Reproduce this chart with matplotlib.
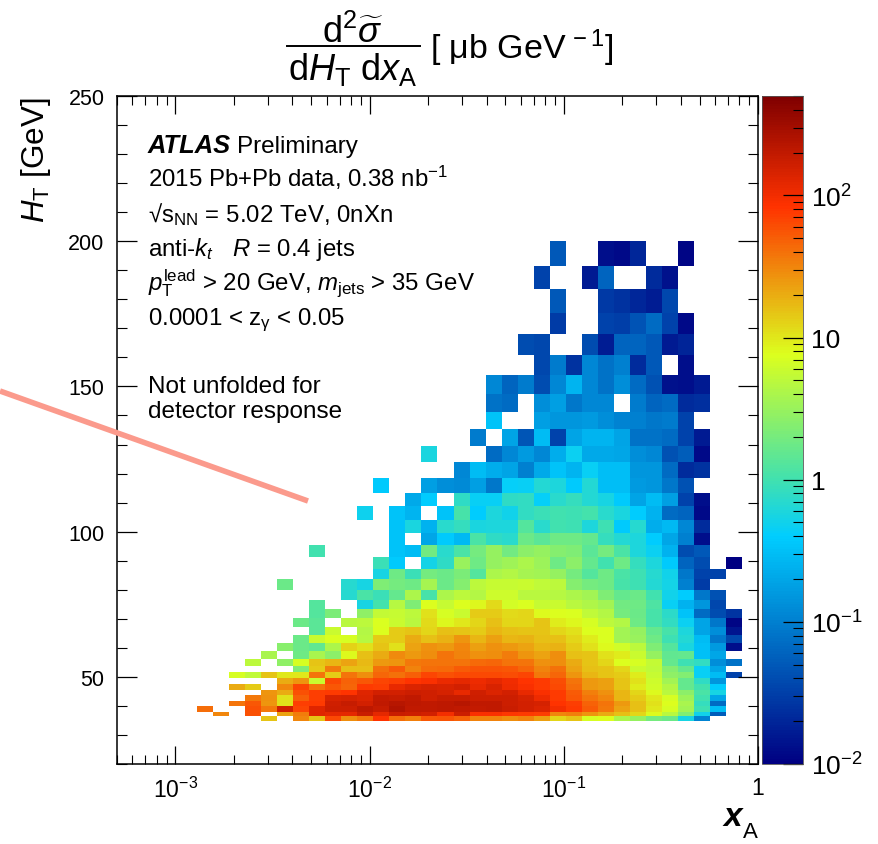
import numpy as np
import matplotlib
matplotlib.use('Agg')
import matplotlib.pyplot as plt
from matplotlib.colors import LinearSegmentedColormap, LogNorm
from matplotlib.lines import Line2D
from matplotlib.ticker import FixedLocator, NullFormatter

plt.rcParams['font.family'] = ['Liberation Sans', 'DejaVu Sans']
plt.rcParams['mathtext.fontset'] = 'custom'
plt.rcParams['mathtext.rm'] = 'Liberation Sans'
plt.rcParams['mathtext.it'] = 'Liberation Sans:italic'
plt.rcParams['mathtext.bf'] = 'Liberation Sans:bold'
plt.rcParams['mathtext.default'] = 'rm'

o = np.nan

# HT bin edges (GeV), low to high
ht_edges = [34.9, 36.4, 38.0, 39.9, 41.7, 43.6, 45.5, 47.5, 49.6, 51.8, 53.9, 56.3, 58.9, 61.6,
            64.5, 67.3, 70.2, 73.3, 76.6, 80.0, 83.6, 87.2, 91.3, 95.3, 99.4, 104.0, 108.7,
            113.3, 118.5, 124.0, 129.4, 135.2, 141.1, 147.5, 154.1, 160.8, 168.2, 175.4,
            183.4, 191.5, 200.1]

# rows from the highest HT bin down: (first x bin, cell values)
rows = [
    (27, [.05, o, o, .013, .012, .02, o, o, .011]),
    (26, [.034, o, o, .016, .06, o, o, .022, .014]),
    (27, [.05, o, o, .028, .025, .02, .017, .037]),
    (27, [.03, o, o, .034, .031, .045, .07, .034, .012]),
    (25, [.04, .037, o, o, .04, .017, .06, .06, .05, .016, .019]),
    (26, [.037, .093, .025, .113, .078, .1, .022, .05, o, .013]),
    (23, [.113, .06, .093, .04, .113, .26, .113, .078, .13, .07, .044, .014, .013, .016]),
    (23, [.078, .07, o, .13, .175, .085, .113, .113, o, .093, .06, .07, .022, .024]),
    (23, [.33, o, o, .175, .148, .148, .16, .13, .107, .1, .085, .093, .034]),
    (22, [.093, o, .19, .048, .29, .033, .19, .26, .26, .19, .078, .078, .07, .034, .016]),
    (19, [.57, o, o, o, .07, .113, .16, .113, .23, .47, .21, .21, .2, .13, .113, .044, .054, .012]),
    (21, [.113, .29, .23, .19, .1, .21, .33, .26, .44, .3, .3, .148, .148, .07, .022, .025]),
    (16, [.37, o, o, .175, .13, .12, .175, .085, .42, .45, .64, .6, .37, .64, .3, .3, .16, .148, .085, .044]),
    (18, [.21, .4, o, .76, .45, .45, .76, .8, .42, .72, .85, .64, .54, .37, .19, .29, .175, .033, .013]),
    (15, [.49, o, .33, .26, o, .33, 1.1, .4, .6, .5, .8, .9, 1, .95, 1.05, .72, .57, .4, .245, .07, .06, .012]),
    (17, [.33, .57, .245, .72, .85, .57, .6, .6, 1.3, .72, 1, .95, .6, .95, .37, .68, .23, .277, .113, .022]),
    (17, [.33, o, .2, .37, .277, 1.15, .76, .72, 1.7, 1.4, 1.8, 1.8, 1.6, .85, .64, .6, .4, .2, .1, .013]),
    (12, [1, o, o, o, o, .33, .29, 1.9, .72, 1.15, 2, 3, 1.9, 2.6, 3, 2.4, 2.2, 1.4, 2, 1.15, .6, .47, .245, .04, .05]),
    (16, [.9, .37, o, .52, .76, 3.2, 1.8, 3, 3.4, 4, 3.3, 1.8, 2.6, 1.6, 1, 1.8, .85, .6, .37, .06, .04, o, .01]),
    (16, [.54, 1.8, .9, 2, 1.7, 2.1, 1.3, 4, 4.4, 3.8, 3.5, 3, 2, 1.3, 1.8, 1.15, .95, .68, .5, .085, .033, .033]),
    (10, [1.7, o, o, o, .68, .54, 2.2, 2, 1.8, 3.7, 1.7, 2.4, 5, 5.6, 5.6, 6, 5.2, 5, 2.4, 2, 1.8, 1.1, .95, .64, .52, .1, .03]),
    (14, [.68, 1.15, .9, 1.6, 4, 1.1, 4, 5, 4.4, 6.2, 6.2, 4.8, 4.8, 4.6, 4.1, 3.5, 2.2, 1.6, 1.7, 1, .51, .4, .085, .044]),
    (12, [1.3, o, o, .56, 1.05, 4.6, 2.2, 7.5, 5.8, 7.5, 8.5, 11.5, 6.6, 7.4, 5.6, 6, 4.8, 4.3, 3.5, 1.9, 1.8, 1.2, .45, .245, .148, .037]),
    (12, [1.3, 2.1, o, 2.8, 5.5, 5.8, 5, 10.8, 7, 6, 13.7, 14, 11.5, 12.2, 8, 7.8, 7.2, 5.3, 4.5, 2, 1.7, 1.1, .74, .33, .07, .04, .026]),
    (11, [1.7, 1.4, o, 4.8, 5, 7.2, 6, 4.8, 11.5, 8.5, 10, 12.2, 16, 12.2, 12.2, 14.8, 9.5, 8.2, 7, 5, 4.4, 1.8, 1.1, .8, .47, .19, .085, .011]),
    (12, [1.4, 6, o, 4.5, 7.5, 13.7, 14.8, 12.2, 16, 14.8, 13.7, 18, 16, 14.8, 14.8, 12.2, 10.8, 7.8, 7.3, 3.5, 3, 1.6, 1.1, .6, .19, .13, .015]),
    (11, [1.7, 6, 7.3, 7, 4.6, 13.7, 13.7, 20.6, 16, 19, 26, 18, 23.5, 18, 19, 16, 16, 12.2, 9.5, 7.3, 3.5, 3.2, 1.8, .95, .64, .29, .088, .037]),
    (10, [2.5, 1.7, 1.5, 4, 13, 10.8, 15.3, 10.8, 22, 27.5, 25, 31.5, 23.5, 27.5, 25, 22, 18, 19, 13.7, 10.8, 8, 6.5, 5, 2.2, 1.3, .58, .32, .16, .013]),
    (9, [3.9, o, 1.8, 3.9, 2.6, 8, 16, 20.6, 30, 25, 29, 39, 33, 27.5, 29, 35.5, 26, 22, 29, 16, 14.8, 10.8, 9.5, 6, 3, 1.5, 1.6, .32, .2]),
    (8, [5, o, 2.8, 7, 14.8, 18, 22, 17, 25, 26, 37, 39, 39, 39, 44, 45, 39, 39, 27.5, 29, 20.6, 14.8, 12.2, 7.8, 7, 5.4, 1.6, .95, .8, .13, .078]),
    (11, [2.2, 13.7, 35.5, 16, 16, 40, 52, 33, 41, 43, 52, 56, 56, 55, 45, 33, 40, 22, 16, 14.8, 12.2, 6, 5.3, 2.4, 1.6, .45, .2]),
    (7, [7, 5.2, 14.8, 10, 10, 38, 13.7, 39, 29, 46, 40, 49, 68, 58, 64, 63, 64, 60, 68, 37, 45, 26, 18, 14.8, 13.7, 9.5, 5.8, 2.8, 2.3, .45, .29, .034]),
    (10, [20.6, 26, 6, 64, 47, 55, 68, 74, 84, 88, 110, 121, 106, 121, 103, 84, 75, 60, 39, 25, 23.5, 14.8, 10.8, 6.2, 3.5, 1.6, .76, .148]),
    (7, [20.6, 13.7, o, 31.5, 68, 39, 55, 46, 77, 74, 115, 138, 150, 145, 154, 115, 145, 106, 88, 75, 64, 41, 25, 23.5, 14.8, 9.5, 6.5, 4.5, 1.6, 1, .4]),
    (9, [26, 20.6, 58, 74, 75, 84, 130, 154, 154, 168, 162, 150, 115, 162, 138, 158, 115, 88, 75, 52, 34, 27.5, 18, 12.2, 8, 4.8, 2.6, 1.15, .54]),
    (8, [37, 27.5, 10.8, 49, 72, 145, 150, 138, 194, 186, 205, 165, 186, 182, 170, 170, 170, 150, 106, 77, 55, 39, 31.5, 18, 13.7, 10, 7, 3.3, 1, .2]),
    (7, [38, 55, 26, 10.8, 74, 75, 162, 182, 154, 205, 224, 210, 200, 214, 224, 205, 205, 170, 158, 150, 84, 74, 47, 39, 25, 16, 10.8, 7.5, 3.9, .85, .07]),
    (5, [42, o, o, 58, 37, 162, 68, 130, 170, 170, 214, 182, 250, 200, 200, 210, 200, 190, 205, 178, 158, 138, 96, 77, 52, 37, 22, 16, 10, 7, 3.5, .95, .3]),
    (6, [31.5, o, 58, o, 22, 35.5, 130, 121, 121, 178, 121, 178, 170, 158, 96, 168, 88, 88, 80, 75, 72, 31.5, 34, 26, 20.6, 16, 12.2, 8, 4.9, 2.3, .51, .054]),
    (9, [14.8, o, 31.5, 14.8, 64, 29, 37, 84, 41, 34, 54, 56, 47, 33, 33, 29, 33, 23.5, 12.2, 14.8, 7, 7.5, 4, 3, 2, 1.7, .54, .107]),
]

x_edges = np.geomspace(5e-4, 1, 41)
z = np.full((40, 40), np.nan)
for i, (first, vals) in enumerate(rows[::-1]):
    z[i, first:first + len(vals)] = vals

# palette stops
stops = [(0.0, '#000082'), (0.34, '#00cdff'), (0.4256, '#41e1af'), (0.613, '#dcff1e'),
         (0.836, '#ff3200'), (1.0, '#800000')]
cmap = LinearSegmentedColormap.from_list('atlas', stops, N=255)
cmap.set_bad((1, 1, 1, 0))

W, H = 879, 845
fig = plt.figure(figsize=(W / 100, H / 100), dpi=100)


def px_rect(left, top, right, bottom):
    return [left / W, 1 - bottom / H, (right - left) / W, (bottom - top) / H]


ax = fig.add_axes(px_rect(117, 97, 758, 765))
mesh = ax.pcolormesh(x_edges, ht_edges, np.ma.masked_invalid(z), cmap=cmap,
                     norm=LogNorm(vmin=0.01, vmax=500))
ax.set_xscale('log')
ax.set_xlim(5e-4, 1)
ax.set_ylim(20, 250)

ax.xaxis.set_major_locator(FixedLocator([1e-3, 1e-2, 1e-1, 1]))
ax.xaxis.set_minor_locator(FixedLocator([m * 10.0 ** e for e in range(-4, 0) for m in range(2, 10)]))
ax.xaxis.set_minor_formatter(NullFormatter())
ax.set_xticklabels(['$10^{-3}$', '$10^{-2}$', '$10^{-1}$', '1'])
ax.set_yticks([50, 100, 150, 200, 250])
ax.yaxis.set_minor_locator(FixedLocator(np.arange(20, 250, 10)))
ax.tick_params(axis='x', which='major', direction='in', top=True, length=13, width=0.9, labelsize=16.5, pad=9)
ax.tick_params(axis='x', which='minor', direction='in', top=True, length=6.5, width=0.8)
ax.tick_params(axis='y', which='major', direction='in', right=True, length=14.4, width=0.9, labelsize=15.5, pad=9)
ax.tick_params(axis='y', which='minor', direction='in', right=True, length=7.2, width=0.8)
for s in ax.spines.values():
    s.set_linewidth(1.1)

# colour bar
cax = fig.add_axes(px_rect(762, 97, 803, 765))
cb = fig.colorbar(mesh, cax=cax)
cb.outline.set_linewidth(0.6)
cb.outline.set_edgecolor('#555555')
cax.set_yticks([0.01, 0.1, 1, 10, 100])
cax.set_yticklabels(['$10^{-2}$', '$10^{-1}$', '1', '10', '$10^{2}$'])
cax.yaxis.set_minor_locator(FixedLocator([m * 10.0 ** e for e in range(-2, 2) for m in range(2, 10)]
                                         + [200, 300, 400, 500]))
cax.yaxis.set_minor_formatter(NullFormatter())
cax.tick_params(axis='y', which='major', direction='in', right=True, length=14.4, width=0.9, labelsize=19, pad=6)
cax.tick_params(axis='y', which='minor', direction='in', right=True, length=7.2, width=0.8)


def label(x, y, s, size=17.5, **kw):
    return fig.text(x / W, 1 - y / H, s, fontsize=size, va='baseline', **kw)


label(148, 153, 'ATLAS', size=18.4, fontweight='bold', fontstyle='italic')
label(237, 153, 'Preliminary')
label(148, 187, r'2015 Pb+Pb data, 0.38 nb$^{-1}$', size=17.3)
label(148, 222, '√s$_{NN}$ = 5.02 TeV, 0nXn', size=17.3)
label(148, 256, r'anti-$\mathit{k}_{\mathit{t}}$   $\mathit{R}$ = 0.4 jets', size=17.3)
label(148, 290, r'$\mathit{p}_{T}^{lead}$ > 20 GeV, $\mathit{m}_{jets}$ > 35 GeV', size=17.3)
label(148, 325, r'0.0001 < z$_{\gamma}$ < 0.05', size=17.3)
label(148, 393, 'Not unfolded for')
label(148, 418, 'detector response')

# title built as a stacked fraction
label(353, 43, r'd$^{2}\widetilde{\mathit{\sigma}}$', size=26, ha='center')
label(353, 80, r'd$\mathit{H}_{T}$ d$\mathit{x}_{A}$', size=26, ha='center')
fig.add_artist(Line2D([287 / W, 420 / W], [1 - 47 / H, 1 - 47 / H], color='black', lw=1.4))
label(430, 59, r'[ $\mathrm{\mu}$b GeV$^{\,-1}$]', size=24.5)

# axis titles
fig.text(36 / W, 1 - 97 / H, r'$\mathit{H}_{T}$ [GeV]', fontsize=22.6, rotation=90, ha='center', va='top')
label(723, 826, 'x', size=24, fontweight='bold', fontstyle='italic')
label(743, 838, 'A', size=16)

# stray line that crosses the figure
fig.add_artist(Line2D([0, 308 / W], [1 - 392 / H, 1 - 502 / H], color='#fb9a8c', lw=4,
                      solid_capstyle='butt'))

fig.savefig('out.png', dpi=100)
